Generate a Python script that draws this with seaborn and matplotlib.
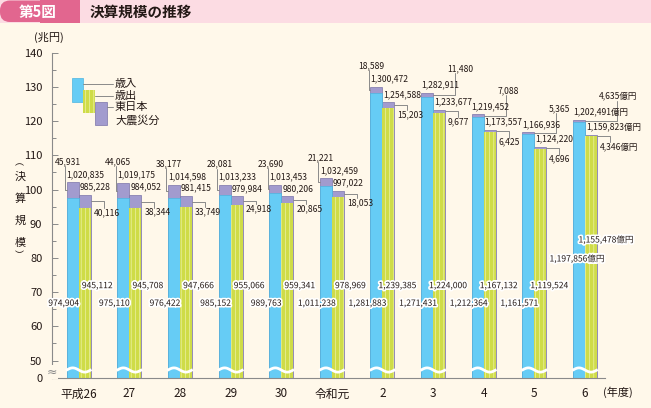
import numpy as np
import pandas as pd
import matplotlib
matplotlib.use('Agg')
import matplotlib.pyplot as plt
import matplotlib.transforms as mtransforms
import seaborn as sns
from matplotlib import font_manager
from matplotlib import patheffects as pe
from matplotlib.patches import Rectangle, FancyBboxPatch
from matplotlib.lines import Line2D

# 決算規模 (億円)
years = ['平成26', '27', '28', '29', '30', '令和元', '2', '3', '4', '5', '6']
rev_total = [1020835, 1019175, 1014598, 1013233, 1013453, 1032459, 1300472, 1282911, 1219452, 1166936, 1202491]
rev_base = [974904, 975110, 976422, 985152, 989763, 1011238, 1281883, 1271431, 1212364, 1161571, 1197856]
rev_quake = [45931, 44065, 38177, 28081, 23690, 21221, 18589, 11480, 7088, 5365, 4635]
exp_total = [985228, 984052, 981415, 979984, 980206, 997022, 1254588, 1233677, 1173557, 1124220, 1159823]
exp_base = [945112, 945708, 947666, 955066, 959341, 978969, 1239385, 1224000, 1167132, 1119524, 1155478]
exp_quake = [40116, 38344, 33749, 24918, 20865, 18053, 15203, 9677, 6425, 4696, 4346]
kinds = ['歳入', '歳出']
legend_labels = ['歳入', '歳出', '東日本', '大震災分']

W, H = 651, 408
BG = '#FFF8EA'
BLUE = '#66CCF5'
GREEN = '#CFDC48'
STRIPE = '#E8EE98'
PURPLE = '#A29BCE'
GRAY = '#8A8A8A'
INK = '#231815'

JP = 'Noto Sans CJK JP'
installed = {f.name for f in font_manager.fontManager.ttflist}
NUM = ['Liberation Sans Narrow', JP] if 'Liberation Sans Narrow' in installed else [JP, 'DejaVu Sans']

sns.set_theme(style='white')
plt.rcParams['font.family'] = [JP, 'DejaVu Sans']
plt.rcParams['hatch.linewidth'] = 0.6

fig = plt.figure(figsize=(W / 100, H / 100), dpi=100, facecolor=BG)
ax = fig.add_axes([52 / W, (H - 377.7) / H, 553 / W, 325 / H])
ax.set_facecolor(BG)
# image pixel coordinates (origin top-left)
IMG = mtransforms.Affine2D().scale(1 / W, -1 / H).translate(0, 1) + fig.transFigure

# size the number font so that a 9-character label is ~38 px wide
renderer = fig.canvas.get_renderer()
probe = fig.text(0, 0, '1,020,835', family=NUM, fontsize=10)
NUM_SIZE = min(8.0, 10 * 38 / probe.get_window_extent(renderer).width)
probe.remove()

df = pd.DataFrame({
    'year': years * 2,
    'kind': [kinds[0]] * len(years) + [kinds[1]] * len(years),
    'total': np.array(rev_total + exp_total) / 1e4,
    'base': np.array(rev_base + exp_base) / 1e4,
})

BW = 0.474
sns.barplot(data=df, x='year', y='total', hue='kind', order=years, hue_order=kinds,
            palette=[PURPLE, PURPLE], width=BW, gap=0, saturation=1, errorbar=None,
            legend=False, edgecolor='#7A74AA', linewidth=0.5, ax=ax)
sns.barplot(data=df, x='year', y='base', hue='kind', order=years, hue_order=kinds,
            palette=[BLUE, GREEN], width=BW, gap=0, saturation=1, errorbar=None,
            legend=False, edgecolor='#4DB5E0', linewidth=0.5, ax=ax)
for p in ax.containers[3]:
    p.set_edgecolor(STRIPE)
    p.set_linewidth(0)
    p.set_hatch('||||')


# broken axis: 0-50 squeezed
def fwd(v):
    v = np.asarray(v, float)
    return np.where(v < 50, v / 10, v - 45)


def inv(u):
    u = np.asarray(u, float)
    return np.where(u < 5, u * 10, u + 45)


ax.set_yscale('function', functions=(fwd, inv))
ax.set_ylim(0, 140)
ax.set_xlim(-0.528, 10.395)
yt = [0] + list(range(50, 141, 10))
ax.set_yticks(yt, labels=[str(t) for t in yt])
ax.set_yticks(list(range(55, 140, 10)), minor=True)
ax.tick_params(axis='y', which='both', direction='in', left=True, color=GRAY, width=0.7)
ax.tick_params(axis='y', which='major', length=4, labelsize=8, labelcolor=INK, pad=7)
ax.tick_params(axis='y', which='minor', length=3)
ax.set_xticks(range(len(years)), labels=years)
ax.tick_params(axis='x', length=0, labelsize=8.5, labelcolor=INK, pad=7)
ax.set_xlabel('')
ax.set_ylabel('')
ax.spines[['top', 'right']].set_visible(False)
for s in ['left', 'bottom']:
    ax.spines[s].set_color(GRAY)
    ax.spines[s].set_linewidth(0.8)


def X(xd):
    return ax.transData.transform((xd, 1))[0]


def Y(v):
    return H - ax.transData.transform((0, v))[1]


def num(x, y, s, ha='left', halo=False):
    kw = {}
    if halo:
        kw['path_effects'] = [pe.withStroke(linewidth=2.5, foreground='white')]
    fig.text(x, y, s, transform=IMG, ha=ha, va='center', family=NUM,
             fontsize=NUM_SIZE, color=INK, zorder=6, **kw)


def leader(xs, ys):
    fig.add_artist(Line2D(xs, ys, transform=IMG, color=GRAY, lw=0.7, zorder=5))


w = BW / 2
wave = mtransforms.blended_transform_factory(ax.transData, ax.transAxes)
for i in range(len(years)):
    last = i == len(years) - 1
    unit = '億円' if last else ''
    rl, rr, er = X(i - w), X(i), X(i + w)
    rt, rb = Y(rev_total[i] / 1e4), Y(rev_base[i] / 1e4)
    et, eb = Y(exp_total[i] / 1e4), Y(exp_base[i] / 1e4)

    num(rl, rt - 8, f'{rev_total[i]:,}' + unit)
    num(rr + 1, et - 8, f'{exp_total[i]:,}' + unit)

    qy = max(et + 12, eb + 4)
    qx = er + 3
    num(qx, qy, f'{exp_quake[i]:,}' + unit)
    leader([er, qx + 10, qx + 10], [(et + eb) / 2, (et + eb) / 2, qy - 4.5])

    rmid = (rt + rb) / 2
    if i <= 6:
        qx, qy = rl - 12, rt - 21
        num(qx, qy, f'{rev_quake[i]:,}' + unit)
        leader([rl - 1.5, rl - 1.5, rl], [qy + 4.5, rmid, rmid])
    else:
        qx, qy = er + 2, rt - 24
        num(qx, qy, f'{rev_quake[i]:,}' + unit)
        lx = qx + (18 if last else 8)
        leader([lx, lx, rr], [qy + 4.5, rmid, rmid])

    if not last:
        num(X(i - w / 2) - 9, Y(66.75), f'{rev_base[i]:,}', ha='center', halo=True)
        num(er + 22, Y(71.9), f'{exp_base[i]:,}', ha='right', halo=True)
    else:
        num(X(i - w / 2) - 2, Y(79.7), f'{rev_base[i]:,}' + unit, ha='center', halo=True)
        num(X(i + w / 2) + 15, Y(85.25), f'{exp_base[i]:,}' + unit, ha='center', halo=True)

    xs = np.linspace(i - w - 0.015, i + w + 0.015, 40)
    ys = 0.0237 + 0.0065 * np.sin(2 * np.pi * (xs - (i - w)) / (2 * w))
    ax.plot(xs, ys, color='white', lw=2, transform=wave, zorder=4, solid_capstyle='butt')

# axis break mark
fig.text(52, 372, '≈', transform=IMG, ha='center', va='center', fontsize=9, color=GRAY,
         family='DejaVu Sans', bbox=dict(fc=BG, ec='none', pad=0.3), zorder=6)

# unit / axis texts
fig.text(49, 37, '(兆円)', transform=IMG, ha='center', va='center', fontsize=8, color=INK)
fig.text(617.5, 392, '(年度)', transform=IMG, ha='center', va='center', fontsize=8, color=INK)
fig.text(19, 163, '︵', transform=IMG, ha='center', va='center', fontsize=6.5, color=INK)
for k, ch in enumerate('決算規模'):
    fig.text(20, 177 + 22 * k, ch, transform=IMG, ha='center', va='center', fontsize=8, color=INK)
fig.text(19, 256, '︶', transform=IMG, ha='center', va='center', fontsize=6.5, color=INK)

# legend
fig.add_artist(Rectangle((71.7, 78), 11, 23.7, transform=IMG, fc=BLUE, ec='#4DB5E0', lw=0.5))
fig.add_artist(Rectangle((83, 90), 12, 23, transform=IMG, fc=GREEN, ec=STRIPE, lw=0, hatch='||||'))
fig.add_artist(Rectangle((95, 101.7), 12, 23.3, transform=IMG, fc=PURPLE, ec='#7A74AA', lw=0.5))
leader([82.7, 113], [84, 84])
leader([95, 113], [96, 96])
leader([107, 113], [106.7, 106.7])
for lab, ly in zip(legend_labels, [84, 96, 107, 120.5]):
    fig.text(115, ly, lab, transform=IMG, ha='left', va='center', fontsize=8, color=INK)

# header
fig.add_artist(Rectangle((0, 0), W, 22.5, transform=IMG, fc='#FCDCE3', ec='none', zorder=1))
fig.add_artist(FancyBboxPatch((0, 0.5), 80, 21.5, boxstyle='round,pad=0,rounding_size=10',
                              transform=IMG, fc='#E2668F', ec='none', zorder=2))
fig.add_artist(Rectangle((40, 0), 40, 22.5, transform=IMG, fc='#E2668F', ec='none', zorder=2))
fig.text(38, 11.5, '第5図', transform=IMG, ha='center', va='center', fontsize=10.5,
         weight='bold', color='white', zorder=3)
fig.text(90, 11.5, '決算規模の推移', transform=IMG, ha='left', va='center', fontsize=10.5,
         weight='bold', color=INK, zorder=3)

fig.savefig('out.png', dpi=100, facecolor=BG)
